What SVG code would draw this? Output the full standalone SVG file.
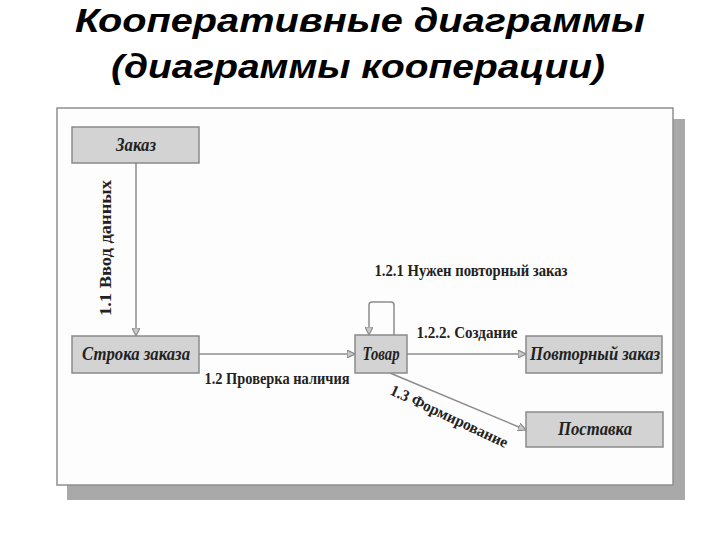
<svg xmlns="http://www.w3.org/2000/svg" width="720" height="540" viewBox="0 0 720 540">
<defs>
<style>
.title{font-family:"Liberation Sans",Arial,sans-serif;font-weight:bold;font-style:italic;font-size:34px;fill:#000;text-anchor:middle}
.node rect{fill:#d3d3d3;stroke:#8a8a8a;stroke-width:1.5}
.node text{font-family:"Liberation Serif","Times New Roman",serif;font-weight:bold;font-style:italic;font-size:18px;fill:#222;text-anchor:middle}
.conn{fill:none;stroke:#8c8c8c;stroke-width:1.5}
.lbl{font-family:"Liberation Serif","Times New Roman",serif;font-weight:bold;font-size:16px;fill:#222;text-anchor:middle}
</style>
<marker id="arr" viewBox="0 0 10 10" refX="10" refY="5" markerWidth="8" markerHeight="8" markerUnits="userSpaceOnUse" orient="auto">
<path d="M0,0 L10,5 L0,10 Z" fill="#c8c8c8" stroke="#8c8c8c" stroke-width="1.5"/>
</marker>
</defs>
<rect width="720" height="540" fill="#fff"/>
<text class="title" x="360" y="32" textLength="570" lengthAdjust="spacingAndGlyphs">Кооперативные диаграммы</text>
<text class="title" x="358" y="78" textLength="494" lengthAdjust="spacingAndGlyphs">(диаграммы кооперации)</text>
<g id="frame">
<rect x="67" y="119" width="618" height="381" fill="#a9a9a9"/>
<rect x="57" y="108" width="616" height="377" fill="#fdfdfd" stroke="#8f8f8f" stroke-width="1.5"/>
</g>
<g id="connectors">
<line class="conn" x1="136" y1="163" x2="136" y2="336" marker-end="url(#arr)"/>
<line class="conn" x1="199" y1="354" x2="355" y2="354" marker-end="url(#arr)"/>
<path class="conn" d="M394,335 V305 Q394,302 391,302 H372 Q369,302 369,305 V335" marker-end="url(#arr)"/>
<line class="conn" x1="407" y1="354" x2="526" y2="354" marker-end="url(#arr)"/>
<line class="conn" x1="390" y1="373" x2="526" y2="430" marker-end="url(#arr)"/>
<text class="lbl" transform="translate(111,248) rotate(-90)" textLength="136" lengthAdjust="spacingAndGlyphs">1.1 Ввод данных</text>
<text class="lbl" x="277" y="384" textLength="145" lengthAdjust="spacingAndGlyphs">1.2 Проверка наличия</text>
<text class="lbl" x="471" y="276" textLength="193" lengthAdjust="spacingAndGlyphs">1.2.1 Нужен повторный заказ</text>
<text class="lbl" x="467" y="338" textLength="101" lengthAdjust="spacingAndGlyphs">1.2.2. Создание</text>
<text class="lbl" transform="translate(447,421) rotate(25)" textLength="128" lengthAdjust="spacingAndGlyphs">1.3 Формирование</text>
</g>
<g id="n-zakaz" class="node"><rect x="72" y="127" width="127" height="36"/><text x="136" y="151" textLength="40" lengthAdjust="spacingAndGlyphs">Заказ</text></g>
<g id="n-stroka" class="node"><rect x="72" y="336" width="127" height="37"/><text x="136" y="360" textLength="108" lengthAdjust="spacingAndGlyphs">Строка заказа</text></g>
<g id="n-tovar" class="node"><rect x="355" y="335" width="52" height="38"/><text x="381" y="360" textLength="37" lengthAdjust="spacingAndGlyphs">Товар</text></g>
<g id="n-povtor" class="node"><rect x="526" y="336" width="136" height="37"/><text x="595" y="360" textLength="130" lengthAdjust="spacingAndGlyphs">Повторный заказ</text></g>
<g id="n-postavka" class="node"><rect x="526" y="412" width="137" height="35"/><text x="595" y="435" textLength="74" lengthAdjust="spacingAndGlyphs">Поставка</text></g>
</svg>
